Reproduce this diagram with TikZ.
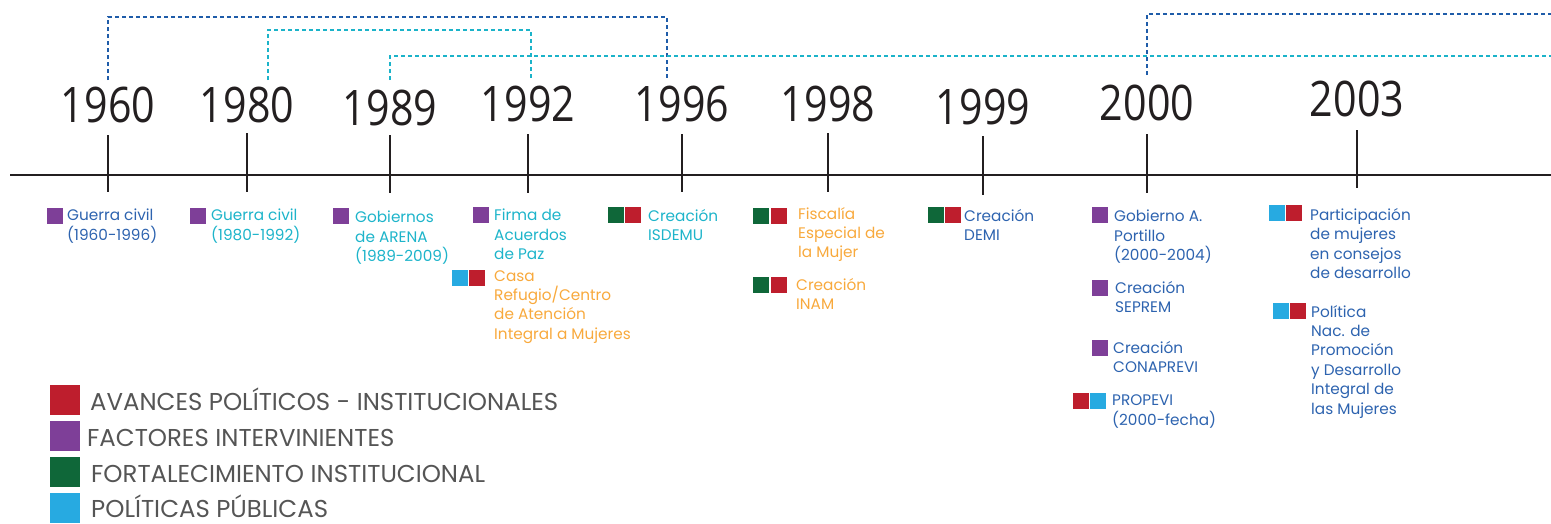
\documentclass[tikz,border=0pt]{standalone}
\usepackage{fontspec}
\newfontfamily\yearfont{Open Sans}
\newfontfamily\itemfont{Poppins}
\usetikzlibrary{positioning}

\definecolor{avred}{HTML}{BE1E2D}
\definecolor{facpurple}{HTML}{7E3F98}
\definecolor{forgreen}{HTML}{0F6739}
\definecolor{polblue}{HTML}{27AAE1}
\definecolor{txtblue}{HTML}{2D63AF}
\definecolor{txtcyan}{HTML}{1DB4CA}
\definecolor{txtorange}{HTML}{F8A93C}
\definecolor{dashblue}{HTML}{1F5CA9}
\definecolor{dashcyan}{HTML}{1BB3C9}
\definecolor{leggray}{HTML}{555555}
\definecolor{axisblack}{HTML}{231F20}

\begin{document}
\begin{tikzpicture}[x=1pt,y=-1pt,
  sq/.style={anchor=north west, minimum size=15.5pt, inner sep=0pt, outer sep=0pt},
  item/.style={anchor=north west, inner sep=0pt, align=left,
    font=\itemfont\fontsize{15.3}{19.4}\selectfont},
  yearlabel/.style={anchor=base, inner sep=0pt, text=axisblack, xscale=0.84,
    font=\yearfont\fontsize{49}{49}\selectfont},
  bracket/.style={line width=2.2pt, dash pattern=on 4pt off 3pt},
  legbox/.style={anchor=north west, minimum size=30pt, inner sep=0pt},
  legtext/.style={anchor=base west, inner sep=0pt, text=leggray, text depth=0pt,
    font=\itemfont\fontsize{24.4}{24.4}\selectfont}]
  \useasboundingbox (0,0) rectangle (1551,523);

  % axis
  \coordinate (axl) at (10,175);
  \coordinate (axr) at (1551,175);
  \draw[axisblack, line width=2.5pt] (axl) -- (axr);

  % years and ticks
  \foreach \yr/\xx/\tp/\bt/\bl in {1960/108/135/192/122, 1980/247/133/192/122,
      1989/390/135/193/125, 1992/528/134/193/121, 1996/682/134/192/121,
      1998/828/133/192/121, 1999/983/136/195/124, 2000/1147/134/193/120,
      2003/1357/130/188/116}{
    \draw[axisblack, line width=2pt] (\xx,\tp) -- (\xx,\bt);
    \node[yearlabel] (y\yr) at (\xx,\bl) {\yr};
  }

  % brackets
  \coordinate (b60) at (108,80);
  \coordinate (b96) at (667,80);
  \coordinate (b80) at (268,80);
  \coordinate (b92) at (531,80);
  \coordinate (b89) at (390,80);
  \coordinate (b00) at (1147,75);
  \coordinate (redge) at (1551,0);
  \draw[bracket, dashblue] (b60) |- (335,17) -| (b96);
  \draw[bracket, dashcyan] (b80) |- (400,30) -| (b92);
  \draw[bracket, dashcyan] (b89) |- (redge |- 0,56);
  \draw[bracket, dashblue] (b00) |- (redge |- 0,14);

  % 1960
  \node[sq, fill=facpurple] (m60) at (47,208) {};
  \node[item, text=txtblue] (t60) at (67,209) {Guerra civil\\(1960-1996)};
  % 1980
  \node[sq, fill=facpurple] (m80) at (190,208) {};
  \node[item, text=txtcyan] (t80) at (211,209) {Guerra civil\\(1980-1992)};
  % 1989
  \node[sq, fill=facpurple] (m89) at (333,208) {};
  \node[item, text=txtcyan] (t89) at (355,211) {Gobiernos\\de ARENA\\(1989-2009)};
  % 1992
  \node[sq, fill=facpurple] (m92a) at (473,207) {};
  \node[item, text=txtcyan] (t92a) at (494,209) {Firma de\\Acuerdos\\de Paz};
  \node[sq, fill=polblue] (m92b) at (452,270) {};
  \node[sq, fill=avred] (m92c) at (469,270) {};
  \node[item, text=txtorange] (t92b) at (494,270) {Casa\\Refugio/Centro\\de Atención\\Integral a Mujeres};
  % 1996
  \node[sq, fill=forgreen] (m96a) at (608,207) {};
  \node[sq, fill=avred] (m96b) at (625,207) {};
  \node[item, text=txtcyan] (t96) at (648,209) {Creación\\ISDEMU};
  % 1998
  \node[sq, fill=forgreen] (m98a) at (753,208) {};
  \node[sq, fill=avred] (m98b) at (771,208) {};
  \node[item, text=txtorange] (t98a) at (798,207) {Fiscalía\\Especial de\\la Mujer};
  \node[sq, fill=forgreen] (m98c) at (753,277) {};
  \node[sq, fill=avred] (m98d) at (771,277) {};
  \node[item, text=txtorange] (t98b) at (796,278) {Creación\\INAM};
  % 1999
  \node[sq, fill=forgreen] (m99a) at (928,207) {};
  \node[sq, fill=avred] (m99b) at (945,207) {};
  \node[item, text=txtblue] (t99) at (964,209) {Creación\\DEMI};
  % 2000
  \node[sq, fill=facpurple] (m00a) at (1092,207) {};
  \node[item, text=txtblue] (t00a) at (1114,210) {Gobierno A.\\Portillo\\(2000-2004)};
  \node[sq, fill=facpurple] (m00b) at (1092,280) {};
  \node[item, text=txtblue] (t00b) at (1115,281) {Creación\\SEPREM};
  \node[sq, fill=facpurple] (m00c) at (1092,340) {};
  \node[item, text=txtblue] (t00c) at (1113,341) {Creación\\CONAPREVI};
  \node[sq, fill=avred] (m00d) at (1073,393) {};
  \node[sq, fill=polblue] (m00e) at (1090,393) {};
  \node[item, text=txtblue] (t00d) at (1112,395) {PROPEVI\\(2000-fecha)};
  % 2003
  \node[sq, fill=polblue] (m03a) at (1269,205) {};
  \node[sq, fill=avred] (m03b) at (1286,205) {};
  \node[item, text=txtblue] (t03a) at (1310,208) {Participación\\de mujeres\\en consejos\\de desarrollo};
  \node[sq, fill=polblue] (m03c) at (1273,303) {};
  \node[sq, fill=avred] (m03d) at (1290,303) {};
  \node[item, text=txtblue] (t03b) at (1311,305) {Política\\Nac. de\\Promoción\\y Desarrollo\\Integral de\\las Mujeres};

  % legend
  \node[legbox, fill=avred] (lav) at (50,385) {};
  \node[legtext] (tav) at (90,410) {AVANCES POLÍTICOS - INSTITUCIONALES};
  \node[legbox, fill=facpurple] (lfa) at (50,421) {};
  \node[legtext] (tfa) at (87,446) {FACTORES INTERVINIENTES};
  \node[legbox, fill=forgreen] (lfo) at (50,457) {};
  \node[legtext] (tfo) at (91,482) {FORTALECIMIENTO INSTITUCIONAL};
  \node[legbox, fill=polblue] (lpo) at (50,493) {};
  \node[legtext] (tpo) at (91,517) {POLÍTICAS PÚBLICAS};
\end{tikzpicture}
\end{document}
